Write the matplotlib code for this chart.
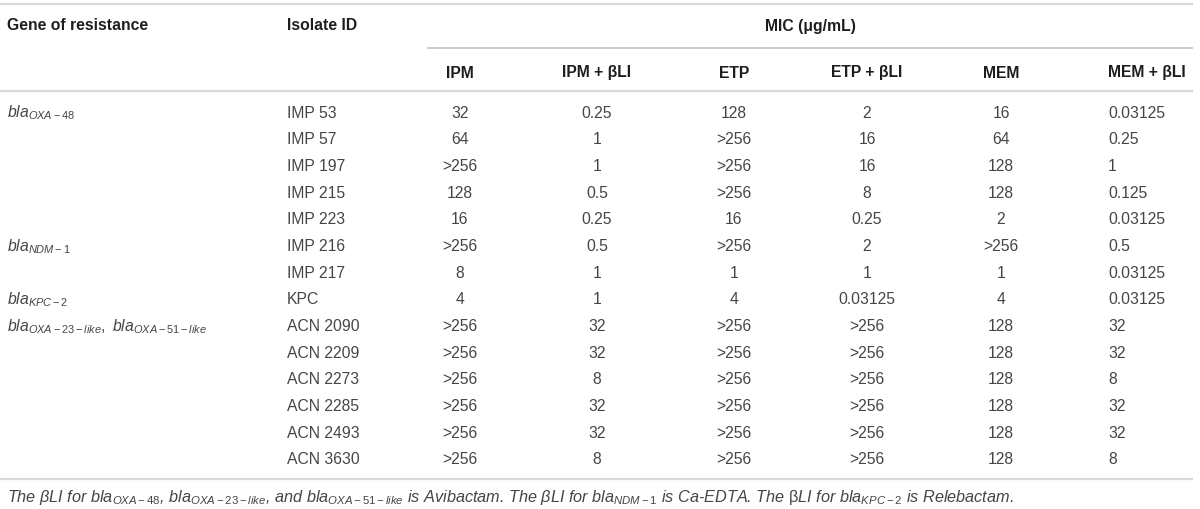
import matplotlib
matplotlib.use("Agg")
import matplotlib.pyplot as plt

plt.rcParams['font.family'] = ['Liberation Sans', 'DejaVu Sans']
plt.rcParams['mathtext.fontset'] = 'custom'
plt.rcParams['mathtext.rm'] = 'Liberation Sans'
plt.rcParams['mathtext.it'] = 'Liberation Sans:italic'
plt.rcParams['mathtext.bf'] = 'Liberation Sans:bold'

# ---- data ----
group_labels = [r'$\mathit{bla}_{\mathit{OXA-48}}$',
                r'$\mathit{bla}_{\mathit{NDM-1}}$',
                r'$\mathit{bla}_{\mathit{KPC-2}}$',
                r'$\mathit{bla}_{\mathit{OXA-23-like}},\ \mathit{bla}_{\mathit{OXA-51-like}}$']
group_start_rows = [0, 5, 7, 8]

isolates = ["IMP 53", "IMP 57", "IMP 197", "IMP 215", "IMP 223", "IMP 216", "IMP 217",
            "KPC", "ACN 2090", "ACN 2209", "ACN 2273", "ACN 2285", "ACN 2493", "ACN 3630"]
col_headers = ["IPM", "IPM + \u03b2LI", "ETP", "ETP + \u03b2LI", "MEM", "MEM + \u03b2LI"]
ipm = ["32", "64", ">256", "128", "16", ">256", "8", "4",
       ">256", ">256", ">256", ">256", ">256", ">256"]
ipm_bli = ["0.25", "1", "1", "0.5", "0.25", "0.5", "1", "1", "32", "32", "8", "32", "32", "8"]
etp = ["128", ">256", ">256", ">256", "16", ">256", "1", "4", ">256", ">256", ">256", ">256", ">256", ">256"]
etp_bli = ["2", "16", "16", "8", "0.25", "2", "1", "0.03125", ">256", ">256", ">256", ">256", ">256", ">256"]
mem = ["16", "64", "128", "128", "2", ">256", "1", "4", "128", "128", "128", "128", "128", "128"]
mem_bli = ["0.03125", "0.25", "1", "0.125", "0.03125", "0.5", "0.03125", "0.03125",
           "32", "32", "8", "32", "32", "8"]
columns = [ipm, ipm_bli, etp, etp_bli, mem, mem_bli]
footnote = (r"The $\beta$LI for $\mathit{bla}_{\mathit{OXA-48}}$, $\mathit{bla}_{\mathit{OXA-23-like}}$, "
            r"and $\mathit{bla}_{\mathit{OXA-51-like}}$ is Avibactam. The $\beta$LI for "
            r"$\mathit{bla}_{\mathit{NDM-1}}$ is Ca-EDTA. The $\mathrm{\beta}$LI for "
            r"$\mathit{bla}_{\mathit{KPC-2}}$ is Relebactam.")

# ---- layout ----
W, H = 1200, 510
fig = plt.figure(figsize=(W / 100, H / 100), dpi=100)
ax = fig.add_axes([0, 0, 1, 1])
ax.set_xlim(0, W)
ax.set_ylim(H, 0)
ax.axis('off')

body_color = '#454545'
head_color = '#1e1e1e'
line_color = '#d8d8d8'
fs = 11.3

col_x = [460, 597, 734, 867, 1001, 1108]
col_ha = ['center'] * 5 + ['left']
row0, dy = 113, 26.67

# lines
ax.plot([0, 1193], [5, 5], color=line_color, lw=1.6, solid_capstyle='butt')
ax.plot([427, 1193], [49, 49], color='#c4c4c4', lw=1.2, solid_capstyle='butt')
ax.plot([0, 1193], [92, 92], color=line_color, lw=1.6, solid_capstyle='butt')
ax.plot([0, 1193], [480, 480], color=line_color, lw=1.6, solid_capstyle='butt')

# headers
ax.text(7, 26, "Gene of resistance", fontsize=fs, fontweight='bold', color=head_color, va='center')
ax.text(287, 26, "Isolate ID", fontsize=fs, fontweight='bold', color=head_color, va='center')
ax.text(810, 26, "MIC (\u03bcg/mL)", fontsize=fs, fontweight='bold', color=head_color,
        va='center', ha='center')
for x, ha, h in zip(col_x, col_ha, col_headers):
    ax.text(x, 73, h, fontsize=fs, fontweight='bold', color=head_color, va='center', ha=ha)

# body
for lab, r in zip(group_labels, group_start_rows):
    ax.text(7, row0 + r * dy, lab, fontsize=fs, color=body_color, va='center')
for i, iso in enumerate(isolates):
    y = row0 + i * dy
    ax.text(287, y, iso, fontsize=fs, color=body_color, va='center')
    for x, ha, col in zip(col_x, col_ha, columns):
        ax.text(x, y, col[i], fontsize=fs, color=body_color, va='center', ha=ha)

ax.text(7, 498, footnote, fontsize=11.7, fontstyle='italic', color=body_color, va='center')

fig.savefig("out.png", dpi=100)
